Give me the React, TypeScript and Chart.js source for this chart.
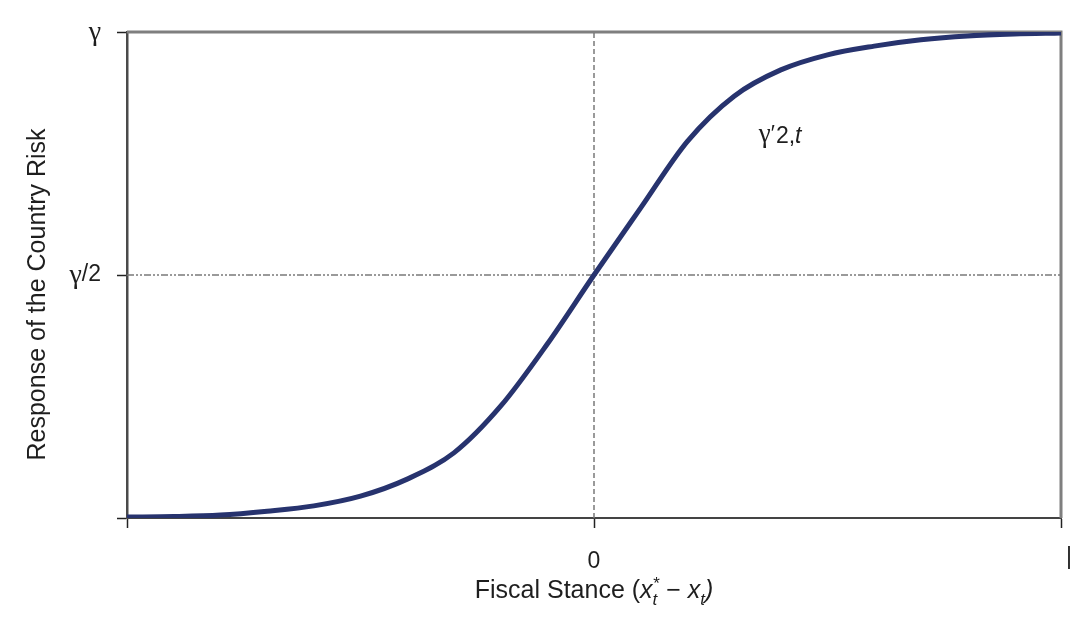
import { useEffect, useRef } from 'react';
import { Chart, registerables } from 'chart.js';

Chart.register(...registerables);

// Curve: x = fiscal stance, y = response (fraction of γ)
const xValues = [-1, -0.9, -0.8, -0.7, -0.6, -0.5, -0.4, -0.3, -0.2, -0.1, 0, 0.1, 0.2, 0.3, 0.4, 0.5, 0.6, 0.7, 0.8, 0.9, 1];
const yValues = [0.002, 0.003, 0.006, 0.014, 0.025, 0.045, 0.08, 0.134, 0.23, 0.358, 0.5, 0.638, 0.775, 0.868, 0.922, 0.953, 0.971, 0.984, 0.992, 0.996, 0.998];

// Reference lines
const crossX = 0;
const crossY = 0.5;

// Ticks
const xTickValues = [-1, 0, 1];
const xTickLabels = ['', '0', ''];
const yTickValues = [0, 0.5, 1];
const yTickLabels = ['', 'γ/2', 'γ'];

// Texts
const yTitle = 'Response of the Country Risk';
const curveLabelPos = { x: 0.353, y: 0.774 };

const FONT = '"Liberation Sans", Arial, Helvetica, sans-serif';
const SERIF = '"Liberation Serif", "Times New Roman", serif';

const overlay = {
  id: 'overlay',
  beforeDatasetsDraw(chart: any) {
    const { ctx, chartArea: a } = chart;
    ctx.save();
    ctx.strokeStyle = '#7f7f7f';
    ctx.lineWidth = 3;
    ctx.beginPath();
    ctx.moveTo(a.left, a.top);
    ctx.lineTo(a.right, a.top);
    ctx.lineTo(a.right, a.bottom);
    ctx.stroke();
    ctx.restore();
  },
  afterDraw(chart: any) {
    const { ctx, chartArea } = chart;
    const xs = chart.scales.x;
    const ys = chart.scales.y;
    ctx.save();
    ctx.fillStyle = '#1e1e1e';
    ctx.textBaseline = 'alphabetic';
    ctx.textAlign = 'left';
    const f = (size: number, italic: boolean, fam = FONT) => `${italic ? 'italic ' : ''}${size}px ${fam}`;

    // Y tick labels (γ in a serif face like the original)
    ctx.textBaseline = 'middle';
    yTickValues.forEach((v, i) => {
      const label = yTickLabels[i];
      if (!label) return;
      const parts = label.split(/(γ)/).filter((p) => p.length);
      let x = chartArea.left - 26;
      const y = ys.getPixelForValue(v);
      for (let k = parts.length - 1; k >= 0; k--) {
        const p = parts[k];
        ctx.font = p === 'γ' ? f(28, false, SERIF) : f(23, false);
        const w = ctx.measureText(p).width;
        x -= w;
        ctx.fillText(p, x, y + (p === 'γ' ? 1 : 0));
      }
    });

    // Y axis title, rotated
    ctx.save();
    ctx.translate(chartArea.left - 89, ys.getPixelForValue(0.46));
    ctx.rotate(-Math.PI / 2);
    ctx.textAlign = 'center';
    ctx.textBaseline = 'middle';
    ctx.font = f(25, false);
    ctx.fillText(yTitle, 0, 0);
    ctx.restore();

    // X axis title with math
    ctx.textBaseline = 'alphabetic';
    ctx.textAlign = 'left';
    const big = 25;
    const small = 17;
    const segs: any[] = [
      { t: 'Fiscal Stance (', font: f(big, false), dy: 0 },
      { t: 'x', font: f(big, true), dy: 0 },
      { stack: [{ t: '*', font: f(small, true), dy: -9 }, { t: 't', font: f(small, true), dy: 7 }] },
      { t: ' − ', font: f(big, false), dy: 0 },
      { t: 'x', font: f(big, true), dy: 0 },
      { t: 't', font: f(small, true), dy: 7 },
      { t: ')', font: f(big, true), dy: 0 },
    ];
    const widthOf = (s: any) => {
      if (s.stack) {
        return Math.max(...s.stack.map((p: any) => { ctx.font = p.font; return ctx.measureText(p.t).width; }));
      }
      ctx.font = s.font;
      return ctx.measureText(s.t).width;
    };
    const total = segs.reduce((acc, s) => acc + widthOf(s), 0);
    let cx = xs.getPixelForValue(0) - total / 2;
    const baseY = ys.getPixelForValue(0) + 80;
    for (const s of segs) {
      const w = widthOf(s);
      if (s.stack) {
        for (const p of s.stack) {
          ctx.font = p.font;
          ctx.fillText(p.t, cx, baseY + p.dy);
        }
      } else {
        ctx.font = s.font;
        ctx.fillText(s.t, cx, baseY + s.dy);
      }
      cx += w;
    }

    // Curve label γ'2,t
    let lx = xs.getPixelForValue(curveLabelPos.x);
    const ly = ys.getPixelForValue(curveLabelPos.y);
    ctx.font = f(27, false, SERIF);
    ctx.fillText('γ', lx, ly);
    lx += ctx.measureText('γ').width;
    ctx.font = f(22, false);
    ctx.fillText('′', lx, ly - 2);
    lx += ctx.measureText('′').width + 1;
    ctx.font = f(23, false);
    ctx.fillText('2,', lx, ly + 1);
    lx += ctx.measureText('2,').width;
    ctx.font = f(23, true);
    ctx.fillText('t', lx, ly + 1);

    // stray bar mark under the right end
    ctx.font = f(23, false);
    ctx.textBaseline = 'middle';
    ctx.textAlign = 'center';
    ctx.fillText('|', xs.getPixelForValue(1) + 8, ys.getPixelForValue(0) + 40);
    ctx.restore();
  },
};

export default function App() {
  const ref = useRef<HTMLCanvasElement | null>(null);

  useEffect(() => {
    document.body.style.margin = '0';
    const canvas = ref.current;
    if (!canvas) return;
    const chart = new Chart(canvas, {
      type: 'line',
      data: {
        datasets: [
          {
            data: xValues.map((x, i) => ({ x, y: yValues[i] })),
            borderColor: '#27336e',
            borderWidth: 5,
            pointRadius: 0,
            cubicInterpolationMode: 'monotone',
            order: 0,
          },
          {
            data: [{ x: crossX, y: 0 }, { x: crossX, y: 1 }],
            borderColor: '#7a7a7a',
            borderWidth: 1.5,
            borderDash: [5, 3],
            pointRadius: 0,
            order: 1,
          },
          {
            data: [{ x: -1, y: crossY }, { x: 1, y: crossY }],
            borderColor: '#7a7a7a',
            borderWidth: 1.5,
            borderDash: [7, 2, 2, 2, 2, 2],
            pointRadius: 0,
            order: 1,
          },
        ],
      } as any,
      options: {
        animation: false,
        responsive: false,
        layout: { padding: { top: 32, right: 22, left: 0, bottom: 0 } },
        plugins: { legend: { display: false }, tooltip: { enabled: false } },
        scales: {
          x: {
            type: 'linear',
            min: -1,
            max: 1,
            afterBuildTicks: (s: any) => { s.ticks = xTickValues.map((v) => ({ value: v })); },
            afterFit: (s: any) => { s.height = 119; },
            ticks: {
              autoSkip: false,
              maxRotation: 0,
              padding: 20,
              color: '#1e1e1e',
              font: { family: FONT, size: 23 },
              callback: (v: any) => xTickLabels[xTickValues.indexOf(Number(v))] ?? '',
            },
            grid: { display: true, drawOnChartArea: false, drawTicks: true, tickLength: 10, tickColor: '#222', tickWidth: 1.5 },
            border: { display: true, color: '#444', width: 2 },
          },
          y: {
            type: 'linear',
            min: 0,
            max: 1,
            afterBuildTicks: (s: any) => { s.ticks = yTickValues.map((v) => ({ value: v })); },
            afterFit: (s: any) => { s.width = 127; },
            ticks: { display: false },
            grid: { display: true, drawOnChartArea: false, drawTicks: true, tickLength: 10, tickColor: '#222', tickWidth: 1.5 },
            border: { display: true, color: '#4a4a4a', width: 2.5 },
          },
        },
      } as any,
      plugins: [overlay],
    });
    return () => chart.destroy();
  }, []);

  return (
    <div style={{ width: 1083, height: 637 }}>
      <canvas ref={ref} width={1083} height={637} />
    </div>
  );
}
